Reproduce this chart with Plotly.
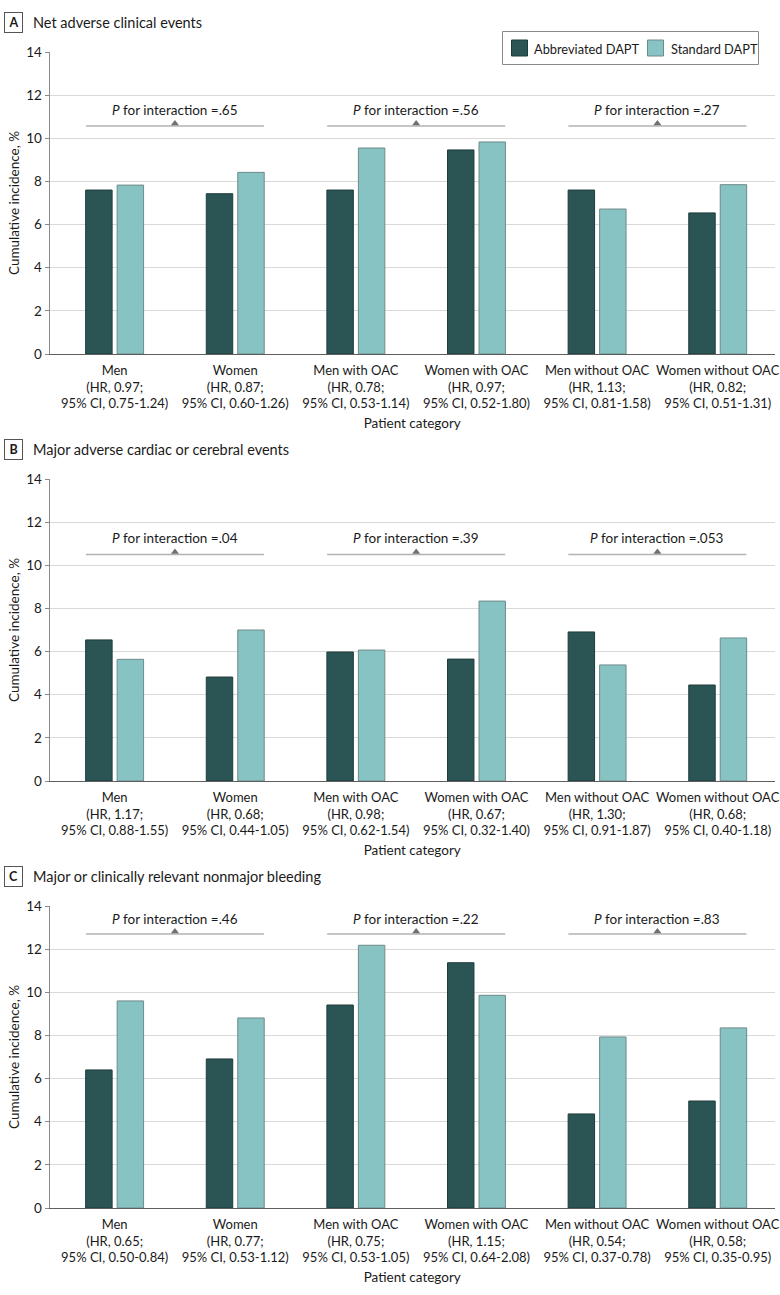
import plotly.graph_objects as go

# ---------------- data ----------------
categories = ["Men", "Women", "Men with OAC", "Women with OAC",
              "Men without OAC", "Women without OAC"]
series_names = ["Abbreviated DAPT", "Standard DAPT"]

panel_letters = ["A", "B", "C"]
panel_titles = ["Net adverse clinical events",
                "Major adverse cardiac or cerebral events",
                "Major or clinically relevant nonmajor bleeding"]

hr_a = ["0.97", "0.87", "0.78", "0.97", "1.13", "0.82"]
ci_a = ["0.75-1.24", "0.60-1.26", "0.53-1.14", "0.52-1.80", "0.81-1.58", "0.51-1.31"]
hr_b = ["1.17", "0.68", "0.98", "0.67", "1.30", "0.68"]
ci_b = ["0.88-1.55", "0.44-1.05", "0.62-1.54", "0.32-1.40", "0.91-1.87", "0.40-1.18"]
hr_c = ["0.65", "0.77", "0.75", "1.15", "0.54", "0.58"]
ci_c = ["0.50-0.84", "0.53-1.12", "0.53-1.05", "0.64-2.08", "0.37-0.78", "0.35-0.95"]

abbrev_a = [7.60, 7.43, 7.60, 9.46, 7.60, 6.54]
standard_a = [7.83, 8.42, 9.55, 9.83, 6.72, 7.85]
abbrev_b = [6.54, 4.82, 5.98, 5.65, 6.91, 4.45]
standard_b = [5.64, 7.00, 6.07, 8.34, 5.38, 6.63]
abbrev_c = [6.40, 6.91, 9.41, 11.37, 4.36, 4.96]
standard_c = [9.60, 8.81, 12.18, 9.86, 7.93, 8.35]

p_a = [".65", ".56", ".27"]
p_b = [".04", ".39", ".053"]
p_c = [".46", ".22", ".83"]

y_ticks = [0, 2, 4, 6, 8, 10, 12, 14]
y_title = "Cumulative incidence, %"
x_title = "Patient category"

# ---------------- style ----------------
W, H = 780, 1295
FONT = "Lato"
DARK = "#2b5454"
LIGHT = "#86c3c2"
DARK_EDGE = "#1e3b3b"
LIGHT_EDGE = "#6f8a8a"
TXT = "#1a1a1a"
GRID = "#d9d9d9"

panels = [
    (abbrev_a, standard_a, hr_a, ci_a, p_a, 10.57, 11.32),
    (abbrev_b, standard_b, hr_b, ci_b, p_b, 10.50, 11.25),
    (abbrev_c, standard_c, hr_c, ci_c, p_c, 12.70, 13.42),
]
# plot-area pixel boxes (top, bottom)
boxes = [(52, 354), (479, 781), (906, 1208)]
x_left, x_right = 49.5, 775

fig = go.Figure()
annotations = []
shapes = []
layout_axes = {}

x = list(range(len(categories)))
for i, (ab, st, hr, ci, pv, line_y, text_y) in enumerate(panels):
    n = "" if i == 0 else str(i + 1)
    xa, ya = "x" + n, "y" + n
    top, bot = boxes[i]
    ticktext = [f"{c}<br>(HR, {h};<br>95% CI, {c2})" for c, h, c2 in zip(categories, hr, ci)]
    layout_axes["xaxis" + n] = dict(
        domain=[x_left / W, x_right / W], anchor=ya,
        range=[-0.54, 5.475], tickvals=x, ticktext=ticktext,
        showgrid=False, zeroline=False, showline=True, linecolor="#5e5e5e",
        linewidth=1, ticks="outside", ticklen=4, tickcolor="rgba(0,0,0,0)",
        tickfont=dict(family=FONT, size=13, color=TXT),
        title=dict(text=x_title, font=dict(family=FONT, size=13.5, color=TXT), standoff=8),
        fixedrange=True,
    )
    layout_axes["yaxis" + n] = dict(
        domain=[1 - bot / H, 1 - top / H], anchor=xa,
        range=[0, 14], tickvals=y_ticks, showgrid=True, gridcolor=GRID, gridwidth=1,
        zeroline=False, showline=True, linecolor="#8a8a8a", linewidth=1,
        ticks="outside", ticklen=4, tickcolor="#8a8a8a",
        tickfont=dict(family=FONT, size=13.5, color=TXT), fixedrange=True,
    )
    fig.add_trace(go.Bar(x=x, y=ab, name=series_names[0], xaxis=xa, yaxis=ya,
                         marker=dict(color=DARK, line=dict(color=DARK_EDGE, width=1)),
                         showlegend=False))
    fig.add_trace(go.Bar(x=x, y=st, name=series_names[1], xaxis=xa, yaxis=ya,
                         marker=dict(color=LIGHT, line=dict(color=LIGHT_EDGE, width=1)),
                         showlegend=False))
    # interaction brackets
    for k, p in enumerate(pv):
        c0 = 2 * k
        fig.add_trace(go.Scatter(x=[c0 - 0.238, c0 + 1.238], y=[line_y, line_y],
                                 mode="lines", line=dict(color="#b3b3b3", width=1.5),
                                 xaxis=xa, yaxis=ya, showlegend=False, hoverinfo="skip"))
        fig.add_trace(go.Scatter(x=[c0 + 0.5], y=[line_y + 0.12], mode="markers",
                                 marker=dict(symbol="triangle-up", size=7, color="#707070"),
                                 xaxis=xa, yaxis=ya, showlegend=False, hoverinfo="skip"))
        annotations.append(dict(x=c0 + 0.5, y=text_y, xref=xa, yref=ya,
                                xanchor="center", yanchor="middle",
                                text=f"<i>P</i> for interaction ={p}", showarrow=False,
                                font=dict(family=FONT, size=13.5, color=TXT)))
    # panel letter & title
    title_y = top - 30
    annotations.append(dict(x=14 / W, y=1 - title_y / H, xref="paper", yref="paper",
                            xanchor="center", yanchor="middle",
                            text=f"<b>{panel_letters[i]}</b>", showarrow=False,
                            font=dict(family=FONT, size=12.5, color=TXT),
                            bordercolor="#555555", borderwidth=1, borderpad=1,
                            width=15, height=17, bgcolor="white"))
    annotations.append(dict(x=31 / W, y=1 - title_y / H, xref="paper", yref="paper",
                            xanchor="left", yanchor="middle",
                            text=panel_titles[i], showarrow=False,
                            font=dict(family=FONT, size=14.5, color=TXT)))
    annotations.append(dict(x=14 / W, y=1 - (top + bot) / 2 / H, xref="paper", yref="paper",
                            xanchor="center", yanchor="middle",
                            text=y_title, textangle=-90, showarrow=False,
                            font=dict(family=FONT, size=13.5, color=TXT)))

# ---------------- legend (panel A, boxed) ----------------
def px(xp):
    return xp / W


def py(yp):
    return 1 - yp / H


shapes.append(dict(type="rect", xref="paper", yref="paper",
                   x0=px(502.5), x1=px(758.5), y0=py(31.5), y1=py(64.5),
                   line=dict(color="#8a8a8a", width=1), fillcolor="white", layer="above"))
legend_items = [(series_names[0], DARK, DARK_EDGE, 511.5, 532),
                (series_names[1], LIGHT, LIGHT_EDGE, 647.5, 668.5)]
for name, col, edge, sx, tx in legend_items:
    shapes.append(dict(type="rect", xref="paper", yref="paper",
                       x0=px(sx), x1=px(sx + 16), y0=py(40), y1=py(56),
                       line=dict(color=edge, width=1), fillcolor=col, layer="above"))
    annotations.append(dict(x=px(tx), y=py(48.5), xref="paper", yref="paper",
                            xanchor="left", yanchor="middle", text=name, showarrow=False,
                            font=dict(family=FONT, size=12.8, color=TXT)))

fig.update_layout(
    width=W, height=H, margin=dict(l=0, r=0, t=0, b=0, autoexpand=False),
    paper_bgcolor="white", plot_bgcolor="white",
    barmode="group", bargap=0.478, bargroupgap=0.16,
    annotations=annotations, shapes=shapes, showlegend=False,
    **layout_axes,
)

fig.write_html("out.html", config={"displayModeBar": False},
               post_script="document.body.style.margin='0';document.body.style.overflow='hidden';")
